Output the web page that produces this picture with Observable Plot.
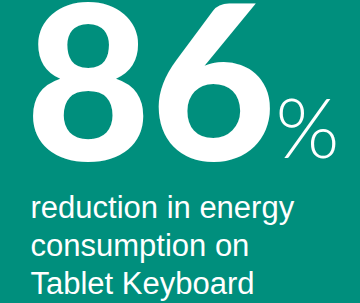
<!DOCTYPE html>
<html>
<head>
<meta charset="utf-8">
<script src="https://cdn.jsdelivr.net/npm/d3@7"></script>
<script src="https://cdn.jsdelivr.net/npm/@observablehq/plot@0.6"></script>
<style>
  html, body { margin: 0; padding: 0; background: #008f7d; }
  #chart svg { display: block; }
</style>
</head>
<body>
<div id="chart"></div>
<script>
const value = [86];
const unit = ["%"];
const labelLines = ["reduction in energy", "consumption on", "Tablet Keyboard"];

const bg = "#008f7d";
const chart = Plot.plot({
  width: 360,
  height: 303,
  margin: 0,
  style: { background: bg, color: "white" },
  marks: [
    Plot.text(value, {
      text: d => String(d),
      frameAnchor: "top-left",
      textAnchor: "start",
      lineAnchor: "bottom",
      dx: 25,
      dy: 159,
      fontSize: 216,
      fontWeight: 900,
      fontFamily: "Lato",
      fill: "white",
      letterSpacing: "2px"
    }),
    Plot.text(unit, {
      text: d => d,
      frameAnchor: "top-left",
      textAnchor: "start",
      lineAnchor: "bottom",
      dx: 275,
      dy: 157,
      fontSize: 82,
      fontWeight: 300,
      fontFamily: "Lato",
      fill: "white"
    }),
    Plot.text([labelLines.join("\n")], {
      text: d => d,
      frameAnchor: "top-left",
      textAnchor: "start",
      lineAnchor: "bottom",
      lineHeight: 38 / 31,
      dx: 30,
      dy: 293,
      fontSize: 31,
      fontFamily: "Liberation Sans",
      fill: "white"
    })
  ]
});
document.getElementById("chart").append(chart);
</script>
</body>
</html>
